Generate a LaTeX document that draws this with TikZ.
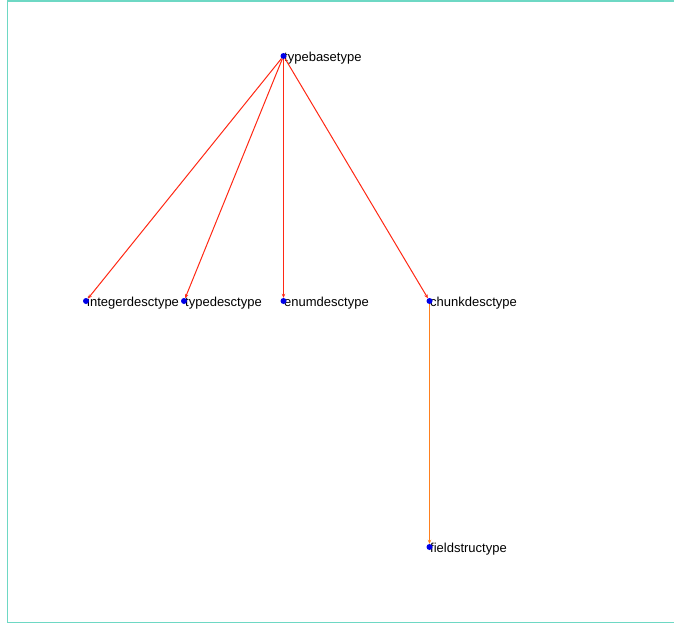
\documentclass[tikz,border=0pt]{standalone}
\usepackage{fontspec}
\setmainfont{Liberation Sans}
\usetikzlibrary{arrows.meta}
\definecolor{frameC}{RGB}{110,216,196}
\definecolor{edgeR}{RGB}{255,40,20}
\definecolor{edgeO}{RGB}{255,128,30}
\definecolor{dotB}{RGB}{0,0,230}
\begin{document}
\begin{tikzpicture}[x=1pt,y=-1pt,
  dotnode/.style={circle,fill=dotB,inner sep=0pt,minimum size=6pt},
  lbl/.style={anchor=west,inner sep=0pt,font=\fontsize{13}{15}\selectfont},
  edge/.style={draw=edgeR,line width=1pt,-{Stealth[length=4pt,width=3.5pt]}},
  edgeo/.style={draw=edgeO,line width=1pt,-{Stealth[length=4pt,width=3.5pt]}}]
\useasboundingbox (0,0) rectangle (674,624);
\draw[frameC,line width=1.6pt] (680,1) -- (7.5,1) -- (7.5,622.5) -- (680,622.5);
% labels
\node[lbl] (tbl) at (284,58) {typebasetype};
\node[lbl] (idl) at (87,303) {integerdesctype};
\node[lbl] (tdl) at (185,303) {typedesctype};
\node[lbl] (edl) at (284,303) {enumdesctype};
\node[lbl] (cdl) at (430,303) {chunkdesctype};
\node[lbl] (fsl) at (430,549) {fieldstructype};
% dots
\node[dotnode] (tb) at (283.5,56) {};
\node[dotnode] (id) at (86,301) {};
\node[dotnode] (td) at (184,301) {};
\node[dotnode] (ed) at (283.5,301) {};
\node[dotnode] (cd) at (429.5,301) {};
\node[dotnode] (fs) at (429.5,547) {};
% edges
\draw[edge] (tb) -- (id);
\draw[edge] (tb) -- (td);
\draw[edge] (tb) -- (ed);
\draw[edge] (tb) -- (cd);
\draw[edgeo] (cd) -- (fs);
\end{tikzpicture}
\end{document}
